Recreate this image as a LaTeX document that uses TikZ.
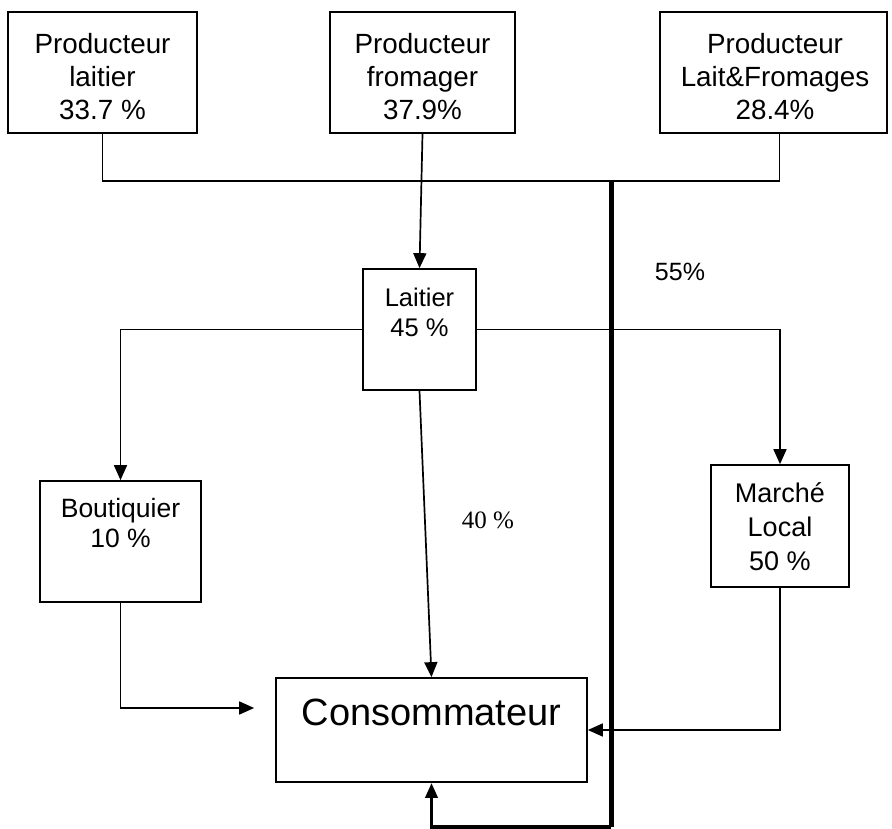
\documentclass[tikz,border=0pt]{standalone}
\usepackage{fontspec}
\setmainfont{Liberation Sans}
\newfontfamily\timesf{Liberation Serif}
\usetikzlibrary{arrows.meta}
\begin{document}
\begin{tikzpicture}[x=1pt,y=-1pt,
  box/.style={draw,line width=1.7pt,inner sep=0pt},
  lbl/.style={align=center,inner sep=0pt},
  conn/.style={line width=1.7pt},
  arr/.style={conn,-{Triangle[length=15pt,width=13pt]}},
  big/.style={font=\fontsize{27.8}{33}\selectfont},
  mid/.style={font=\fontsize{25.5}{30}\selectfont},
  heavy/.style={line width=5pt},
  heavyb/.style={line width=3.5pt,-{Triangle[length=15pt,width=12pt]}}
]
\useasboundingbox (0,0) rectangle (892,829);
% boxes
\node[box,minimum width=189pt,minimum height=121pt] (p1) at (102.5,72.5) {};
\node[box,minimum width=185pt,minimum height=121pt] (p2) at (422.5,72.5) {};
\node[box,minimum width=227pt,minimum height=121pt] (p3) at (773.5,72.5) {};
\node[box,minimum width=113pt,minimum height=121pt] (lait) at (419.5,329.5) {};
\node[box,minimum width=161pt,minimum height=121pt] (bout) at (120.5,541.5) {};
\node[box,minimum width=138pt,minimum height=122pt] (marche) at (780,526) {};
\node[box,minimum width=311pt,minimum height=104pt] (cons) at (431.5,730) {};
% texts
\node[lbl,big] (t1) at (102.5,77) {Producteur\\laitier\\33.7 \%};
\node[lbl,big] (t2) at (422.5,77) {Producteur\\fromager\\37.9\%};
\node[lbl,big] (t3) at (775,77) {Producteur\\Lait\&Fromages\\28.4\%};
\node[lbl,mid] (tl) at (419.5,312) {Laitier\\45 \%};
\node[lbl,font=\fontsize{26.5}{30}\selectfont] (tb) at (120.5,523) {Boutiquier\\10 \%};
\node[lbl,font=\fontsize{27}{34}\selectfont] (tm) at (780,527) {Marché\\Local\\50 \%};
\node[lbl,font=\fontsize{38}{44}\selectfont] (tc) at (431.5,712) {Consommateur};
\node[lbl,font=\timesf\fontsize{25}{30}\selectfont] (q40) at (488,520) {40 \%};
\node[lbl,font=\fontsize{25}{30}\selectfont] (q55) at (680,272) {55\%};
% connectors
\coordinate (bus) at (611,181);
\coordinate (bot) at (611,827);
\draw[conn] (p1.south) |- (bus) -| ([xshift=6pt]p3.south);
\draw[arr] (p2.south) -- (lait.north);
\draw[arr] (lait.west) -| (bout.north);
\draw[arr] (lait.east) -| (marche.north);
\draw[arr] (lait.south) -- (cons.north);
\draw[arr] (bout.south) |- ([xshift=-21pt,yshift=22pt]cons.west);
\draw[arr] (marche.south) |- (cons.east);
\draw[heavy] (bus) -- (bot);
\draw[heavyb] (bot) -| (cons.south);
\end{tikzpicture}
\end{document}
